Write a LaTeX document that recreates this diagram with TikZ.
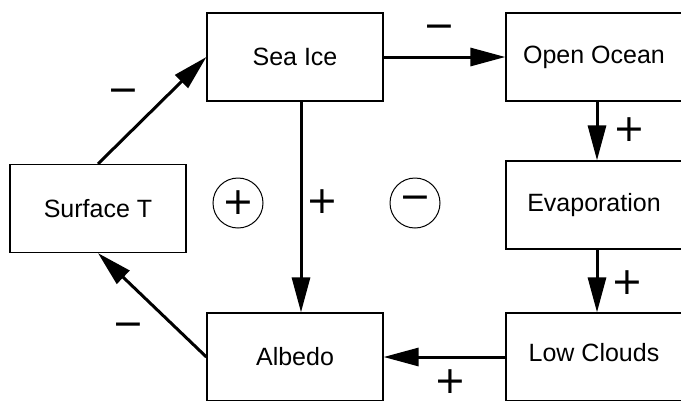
\documentclass[tikz,border=0pt]{standalone}
\usepackage{fontspec}
\setmainfont{Liberation Sans}
\newfontfamily\signfont{DejaVu Sans}
\usetikzlibrary{arrows.meta}

\begin{document}
\begin{tikzpicture}[x=1pt,y=-1pt,
		box/.style={draw,line width=1.2pt,minimum width=176pt,minimum height=88pt,inner sep=0pt,font=\fontsize{25}{30}\selectfont},
		flow/.style={-{Triangle[length=35pt,width=18pt]},line width=3pt},
		sign/.style={inner sep=0pt,font=\signfont\fontsize{38}{38}\selectfont},
		loopsign/.style={sign,draw,circle,line width=1pt,minimum size=50pt}]
		\useasboundingbox (0,0) rectangle (681,400);
		
		\node[box] (surft) at (98,208.5) {Surface T};
		\node[box] (seaice) at (295,57) {Sea Ice};
		\node[box] (ocean) at (594,57) {Open Ocean};
		\node[box] (evap) at (594,205) {Evaporation};
		\node[box,text depth=10pt] (clouds) at (594,357) {Low Clouds};
		\node[box] (albedo) at (295,357) {Albedo};
		
		\draw[flow] (surft.north) -- (seaice.west);
		\draw[flow] (seaice.east) -- (ocean.west);
		\draw[flow] ([xshift=3pt]ocean.south) -- ([xshift=3pt]evap.north);
		\draw[flow] ([xshift=3pt]evap.south) -- ([xshift=3pt]clouds.north);
		\draw[flow] (clouds.west) -- (albedo.east);
		\draw[flow] (albedo.west) -- (surft.south);
		\draw[flow] ([xshift=6pt]seaice.south) -- ([xshift=6pt]albedo.north);
		
		% signs on the links
		\foreach \nm/\x/\y/\s in {sgnsurf/123/96/−, sgnsea/439/32/−, sgnocean/629/130/+, sgnevap/627/283/+, sgnclouds/450/382/+, sgnalbedo/128/330/−, sgnice/322/202/+}{
			\node[sign] (\nm) at (\x,\y) {\s};
		}
		
		% loop signs
		\node[loopsign] (posloop) at (238,203) {+};
		\node[loopsign] (negloop) at (415,203) {−};
\end{tikzpicture}
\end{document}
